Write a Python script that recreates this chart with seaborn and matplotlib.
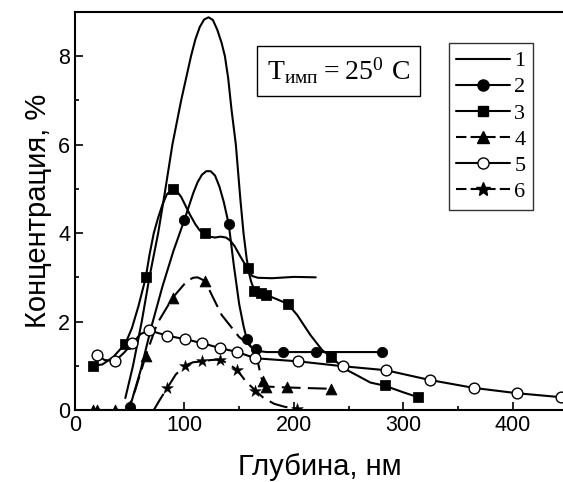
import numpy as np
import pandas as pd
import matplotlib
matplotlib.use("Agg")
import matplotlib.pyplot as plt
from matplotlib.lines import Line2D
import seaborn as sns

# curve 1 (no markers)
c1_x = [46, 53, 61, 68, 76, 82, 89, 97, 106, 110, 114, 118, 122, 126, 130, 134, 137, 140, 143, 147, 151, 154, 157, 159, 162, 167,
        180, 200, 220]
c1_y = [0.27, 1.0, 2.0, 3.0, 4.0, 4.9, 6.0, 7.0, 8.0, 8.38, 8.66, 8.83, 8.88, 8.82, 8.6, 8.3, 8.0, 7.5, 6.8, 6.0, 4.8, 4.0, 3.4,
        3.15, 3.03, 2.99, 2.98, 3.01, 3.0]

# curve 2 (filled circles)
c2_x = [50, 60, 70, 80, 90, 100, 108, 112, 116, 120, 124, 128, 132, 136, 140.5, 145, 150, 154, 157, 161, 166, 175, 190, 281]
c2_y = [0.05, 0.9, 1.9, 2.8, 3.6, 4.3, 4.9, 5.15, 5.32, 5.4, 5.4, 5.3, 5.05, 4.7, 4.2, 3.3, 2.4, 1.9, 1.6, 1.42, 1.34, 1.31,
        1.31, 1.31]
m2_x = [50, 100, 140.5, 157, 165, 190, 220, 281]
m2_y = [0.07, 4.3, 4.2, 1.6, 1.38, 1.31, 1.31, 1.31]

# curve 3 (filled squares)
c3_x = [16, 25, 35, 46, 52, 58, 64.7, 68, 72, 76, 80, 84, 89.3, 93, 97, 101, 105, 110, 114, 118.8, 123, 128, 133, 138, 142,
        146, 150, 154, 158, 161, 164, 170, 175, 185, 194.4, 203, 215, 226, 234.4, 245, 258, 270, 283, 300, 313.5]
c3_y = [1.0, 1.03, 1.2, 1.5, 1.85, 2.35, 3.0, 3.5, 4.0, 4.35, 4.65, 4.88, 5.0, 4.95, 4.82, 4.62, 4.42, 4.2, 4.06, 4.0, 3.92,
        3.9, 3.92, 3.9, 3.83, 3.7, 3.52, 3.35, 3.2, 2.9, 2.7, 2.64, 2.6, 2.5, 2.4, 2.15, 1.7, 1.35, 1.2, 0.95, 0.78, 0.62,
        0.55, 0.4, 0.29]
m3_x = [16, 46, 64.7, 89.3, 118.8, 158.2, 164, 170, 175, 194.4, 234.4, 283.3, 313.5]
m3_y = [1.0, 1.5, 3.0, 5.0, 4.0, 3.2, 2.7, 2.65, 2.6, 2.4, 1.2, 0.57, 0.29]

# curve 4 (filled triangles, dashed)
c4_x = [16, 48, 55, 64.7, 75, 89.3, 100, 104, 108, 112, 118.8, 126, 134, 142, 150, 158, 164, 167, 170, 172, 175, 193, 234]
c4_y = [0, 0, 0.45, 1.23, 1.95, 2.54, 2.85, 2.94, 2.99, 3.0, 2.92, 2.55, 2.15, 1.9, 1.65, 1.5, 1.35, 1.1, 0.75, 0.62, 0.53,
        0.51, 0.48]
m4_x = [16, 20, 37, 50, 64.7, 89.3, 118.8, 171.4, 175, 193.4, 234.4]
m4_y = [0, 0, 0, 0.03, 1.23, 2.54, 2.92, 0.66, 0.53, 0.51, 0.48]

# curve 5 (open circles)
c5_x = [20.4, 27, 36.8, 45, 52.5, 60, 68, 76, 84.4, 100.8, 116.5, 132.6, 148.4, 164.8, 204.2, 244.6, 284, 324, 364.4, 403.8, 443.9]
c5_y = [1.25, 1.13, 1.11, 1.3, 1.51, 1.72, 1.80, 1.74, 1.68, 1.60, 1.51, 1.40, 1.31, 1.17, 1.10, 0.99, 0.90, 0.68, 0.50, 0.38, 0.29]
m5_x = [20.4, 36.8, 52.5, 68, 84.4, 100.8, 116.5, 132.6, 148.4, 164.8, 204.2, 244.6, 284, 324, 364.4, 403.8, 443.9]
m5_y = [1.25, 1.11, 1.51, 1.80, 1.68, 1.60, 1.51, 1.40, 1.31, 1.17, 1.10, 0.99, 0.90, 0.68, 0.50, 0.38, 0.29]

# curve 6 (stars, dashed)
c6_x = [72, 78, 84.4, 92, 100, 108, 116.5, 124, 132.6, 140, 148.4, 156, 164.8, 172, 182, 192, 203]
c6_y = [0, 0.25, 0.5, 0.8, 1.0, 1.08, 1.1, 1.13, 1.14, 1.05, 0.9, 0.65, 0.44, 0.28, 0.14, 0.07, 0.03]
m6_x = [84.4, 100.1, 116.5, 132.6, 148.4, 164.8, 202.9]
m6_y = [0.5, 1.0, 1.1, 1.14, 0.9, 0.44, 0.03]

sns.set_style("ticks", {"text.color": "k", "axes.labelcolor": "k", "xtick.color": "k", "ytick.color": "k",
                        "axes.edgecolor": "k"})
plt.rcParams['font.family'] = ['Liberation Sans', 'DejaVu Sans']

fig = plt.figure(figsize=(5.63, 4.82), dpi=100)
ax = fig.add_axes([75 / 563, 1 - 410 / 482, 1 - 75 / 563 + 0.002, (410 - 12) / 482])

lw = 1.5
dash = (0, (9, 3.5))
sns.lineplot(x=c1_x, y=c1_y, ax=ax, color='k', lw=lw, sort=False, estimator=None)
sns.lineplot(x=c2_x, y=c2_y, ax=ax, color='k', lw=lw, sort=False, estimator=None)
sns.lineplot(x=c3_x, y=c3_y, ax=ax, color='k', lw=lw, sort=False, estimator=None)
sns.lineplot(x=c4_x, y=c4_y, ax=ax, color='k', lw=lw, sort=False, estimator=None, linestyle=dash)
sns.lineplot(x=c5_x, y=c5_y, ax=ax, color='k', lw=lw, sort=False, estimator=None)
sns.lineplot(x=c6_x, y=c6_y, ax=ax, color='k', lw=lw, sort=False, estimator=None, linestyle=dash)

sns.scatterplot(x=m2_x, y=m2_y, ax=ax, color='k', marker='o', s=55, edgecolor='k', zorder=3)
sns.scatterplot(x=m3_x, y=m3_y, ax=ax, color='k', marker='s', s=45, edgecolor='k', zorder=3)
sns.scatterplot(x=m4_x, y=m4_y, ax=ax, color='k', marker='^', s=60, edgecolor='k', zorder=3)
sns.scatterplot(x=m5_x, y=m5_y, ax=ax, color='white', marker='o', s=60, edgecolor='k', linewidth=1.0, zorder=3)
sns.scatterplot(x=m6_x, y=m6_y, ax=ax, color='k', marker='*', s=80, edgecolor='k', linewidth=0.3, zorder=3)

ax.set_xlim(0, 447)
ax.set_ylim(0, 9)
ax.set_xticks([0, 100, 200, 300, 400])
ax.set_xticks([50, 150, 250, 350], minor=True)
ax.set_yticks([0, 2, 4, 6, 8])
ax.set_yticks([1, 3, 5, 7], minor=True)
ax.tick_params(which='both', direction='in', top=False, right=False, width=1.2)
ax.tick_params(which='major', length=6, labelsize=15.5)
ax.tick_params(which='minor', length=3)
for s in ['left', 'bottom', 'top']:
    ax.spines[s].set_linewidth(1.5)
    ax.spines[s].set_color('k')
ax.spines['right'].set_visible(False)
ax.set_xlabel('Глубина, нм', fontsize=21, labelpad=12)
ax.set_ylabel('Концентрация, %', fontsize=21, labelpad=4)

ax.text(0.539, 0.852, r'$\mathregular{T_{имп}= 25^0\ C}$', transform=ax.transAxes,
        family=['Liberation Serif', 'DejaVu Serif'], fontsize=20, ha='center', va='center',
        bbox=dict(boxstyle='square,pad=0.36', fc='white', ec='k', lw=1.0))

handles = [
    Line2D([], [], color='k', lw=lw),
    Line2D([], [], color='k', lw=lw, marker='o', ms=8),
    Line2D([], [], color='k', lw=lw, marker='s', ms=7),
    Line2D([], [], color='k', lw=lw, marker='^', ms=8, linestyle=(0, (5, 2))),
    Line2D([], [], color='k', lw=lw, marker='o', ms=8, mfc='white'),
    Line2D([], [], color='k', lw=lw, marker='*', ms=10, linestyle=(0, (5, 2))),
]
leg = ax.legend(handles, ['1', '2', '3', '4', '5', '6'], loc='upper left', bbox_to_anchor=(0.764, 0.922),
                prop={'family': 'Liberation Serif', 'size': 16}, frameon=True, fancybox=False,
                handlelength=2.4, handletextpad=0.2, labelspacing=0.25, borderpad=0.35, borderaxespad=0)
leg.get_frame().set_edgecolor('k')
leg.get_frame().set_linewidth(1.0)

fig.savefig('out.png', dpi=100)
